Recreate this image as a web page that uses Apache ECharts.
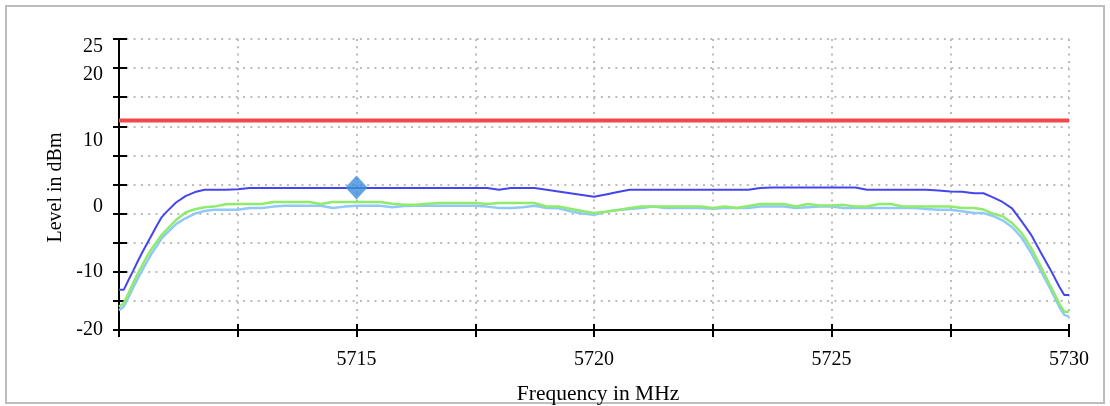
<!DOCTYPE html>
<html><head><meta charset="utf-8">
<script src="https://cdn.jsdelivr.net/npm/echarts@6/dist/echarts.min.js"></script>
<style>html,body{margin:0;padding:0;background:#fff}#c{width:1110px;height:406px}</style>
</head><body><div id="c"></div>
<script>
// Frequency sample points (MHz)
const freqMHz = [
  5710.0, 5710.1, 5710.2, 5710.3, 5710.4, 5710.5, 5710.6, 5710.7, 5710.8, 5710.9,
  5711.0, 5711.2, 5711.4, 5711.6, 5711.8, 5712.0,
  5712.25, 5712.5, 5712.75, 5713.0, 5713.25, 5713.5, 5713.75, 5714.0, 5714.25, 5714.5,
  5714.75, 5715.0, 5715.25, 5715.5, 5715.75, 5716.0, 5716.25, 5716.5, 5716.75, 5717.0,
  5717.25, 5717.5, 5717.75, 5718.0, 5718.25, 5718.5, 5718.75, 5719.0, 5719.25, 5719.5,
  5719.75, 5720.0, 5720.25, 5720.5, 5720.75, 5721.0, 5721.25, 5721.5, 5721.75, 5722.0,
  5722.25, 5722.5, 5722.75, 5723.0, 5723.25, 5723.5, 5723.75, 5724.0, 5724.25, 5724.5,
  5724.75, 5725.0, 5725.25, 5725.5, 5725.75, 5726.0, 5726.25, 5726.5, 5726.75, 5727.0,
  5727.25, 5727.5, 5727.75, 5728.0,
  5728.2, 5728.4, 5728.6, 5728.8, 5729.0, 5729.2, 5729.4, 5729.6, 5729.8, 5729.9, 5730.0
];
// Dark blue trace (dBm)
const levelBlue = [
  -13.1, -13.1, -11.4, -9.8, -8.1, -6.5, -5.0, -3.5, -2.0, -0.6,
  0.3, 1.9, 3.0, 3.7, 4.1, 4.1,
  4.1, 4.2, 4.4, 4.4, 4.4, 4.4, 4.4, 4.4, 4.4, 4.4,
  4.4, 4.4, 4.4, 4.4, 4.4, 4.4, 4.4, 4.4, 4.4, 4.4,
  4.4, 4.4, 4.4, 4.1, 4.4, 4.4, 4.4, 4.1, 3.8, 3.5,
  3.2, 2.9, 3.3, 3.7, 4.1, 4.1, 4.1, 4.1, 4.1, 4.1,
  4.1, 4.1, 4.1, 4.1, 4.1, 4.4, 4.5, 4.5, 4.5, 4.5,
  4.5, 4.5, 4.5, 4.5, 4.1, 4.1, 4.1, 4.1, 4.1, 4.1,
  3.95, 3.8, 3.75, 3.5,
  3.5, 2.8, 2.0, 0.9, -1.3, -3.6, -6.6, -9.5, -12.6, -14.0, -14.0
];
// Green trace (dBm)
const levelGreen = [
  -16.0, -15.4, -13.7, -11.9, -10.2, -8.7, -7.2, -5.9, -4.8, -3.65,
  -2.8, -1.1, 0.2, 0.75, 1.1, 1.2,
  1.6, 1.64, 1.64, 1.64, 1.98, 1.98, 1.98, 1.98, 1.64, 1.98,
  1.98, 1.98, 1.98, 1.98, 1.7, 1.51, 1.51, 1.7, 1.81, 1.81,
  1.81, 1.81, 1.64, 1.81, 1.81, 1.81, 1.81, 1.22, 1.22, 0.85,
  0.45, 0.09, 0.3, 0.6, 0.95, 1.22, 1.22, 1.22, 1.22, 1.22,
  1.22, 0.95, 1.22, 0.95, 1.3, 1.64, 1.64, 1.64, 1.22, 1.64,
  1.4, 1.4, 1.5, 1.22, 1.22, 1.64, 1.64, 1.22, 1.22, 1.22,
  1.22, 1.22, 0.95, 0.95,
  0.7, 0.0, -0.45, -1.6, -3.3, -5.85, -9.0, -12.3, -15.5, -16.85, -16.85
];
// Light blue trace (dBm)
const levelLightBlue = [
  -16.6, -16.0, -14.4, -12.7, -11.1, -9.6, -8.1, -6.7, -5.5, -4.2,
  -3.4, -1.8, -0.8, 0.0, 0.45, 0.65,
  0.65, 0.65, 0.95, 0.95, 1.2, 1.34, 1.34, 1.34, 1.34, 0.95,
  1.2, 1.34, 1.34, 1.34, 1.1, 1.3, 1.34, 1.34, 1.34, 1.34,
  1.34, 1.34, 1.2, 0.95, 0.95, 1.1, 1.34, 0.95, 0.9, 0.4,
  0.0, -0.21, 0.3, 0.6, 0.8, 0.95, 1.22, 0.95, 0.95, 0.95,
  0.95, 0.85, 0.95, 0.95, 0.95, 1.22, 1.22, 1.22, 0.95, 1.1,
  1.22, 1.22, 0.95, 0.95, 0.95, 0.95, 0.95, 0.95, 0.95, 0.8,
  0.65, 0.65, 0.4, 0.09,
  0.09, -0.4, -1.15, -2.3, -4.1, -6.7, -9.7, -12.8, -16.1, -17.4, -17.7
];
// Limit line and marker
const limitFreq = [5710, 5730];
const limitLevel = 16;
const markerFreq = [5715];
const markerLevel = [4.5];
// Tick labels
const xTickLabels = [5715, 5720, 5725, 5730];
const yTickLabels = ['25', '20', '10', '0', '-10', '-20'];
// level value at which each y label sits in the reference
const yTickLabelAt = [28.7, 23.9, 12.5, 1.2, -10.0, -20];

const FONT = 'Liberation Serif';
const chart = echarts.init(document.getElementById('c'), null, {renderer: 'canvas'});

const option = {
  animation: false,
  backgroundColor: '#fff',
  grid: {left: 119, right: 41, top: 39, bottom: 76, containLabel: false, outerBoundsMode: 'none'},
  graphic: [{
    type: 'rect', silent: true, z: -1,
    shape: {x: 6, y: 6, width: 1098, height: 397},
    style: {fill: null, stroke: '#bdbdbd', lineWidth: 2}
  }],
  xAxis: [{
    type: 'value', min: 5710, max: 5730, interval: 2.5, position: 'bottom',
    axisLine: {onZero: false, lineStyle: {color: '#000', width: 2}},
    axisTick: {length: 7, lineStyle: {color: '#000', width: 2}},
    axisLabel: {customValues: xTickLabels, margin: 20, fontFamily: FONT, fontSize: 20, color: '#000',
      formatter: v => String(v)},
    splitLine: {show: true, lineStyle: {type: [2, 5.3], color: '#bbbbbb', width: 2}},
    name: 'Frequency in MHz', nameLocation: 'middle', nameGap: 53,
    nameTextStyle: {fontFamily: FONT, fontSize: 21.5, color: '#000', padding: [0, 0, 0, 8]}
  }, {
    type: 'value', min: 5710, max: 5730, interval: 2.5, position: 'bottom',
    axisLine: {show: false, onZero: false},
    axisTick: {inside: true, length: 6, lineStyle: {color: '#000', width: 2}},
    axisLabel: {show: false}, splitLine: {show: false}
  }],
  yAxis: [{
    type: 'value', min: -20, max: 30, interval: 5, position: 'left',
    axisLine: {show: true, onZero: false, lineStyle: {color: '#000', width: 2}},
    axisTick: {show: true, length: 6, lineStyle: {color: '#000', width: 2}},
    axisLabel: {
      customValues: yTickLabelAt, margin: 16, fontFamily: FONT, fontSize: 20, color: '#000',
      formatter: function (v) {
        let best = 0;
        for (let i = 1; i < yTickLabelAt.length; i++) {
          if (Math.abs(yTickLabelAt[i] - v) < Math.abs(yTickLabelAt[best] - v)) best = i;
        }
        return yTickLabels[best];
      }
    },
    splitLine: {show: true, lineStyle: {type: [2, 5.3], color: '#bbbbbb', width: 2}},
    name: 'Level in dBm', nameLocation: 'middle', nameGap: 49,
    nameTextStyle: {fontFamily: FONT, fontSize: 20, color: '#000', padding: [0, 6, 0, 0]}
  }, {
    type: 'value', min: -20, max: 30, interval: 5, position: 'left',
    axisLine: {show: false, onZero: false},
    axisTick: {show: true, inside: true, length: 8, lineStyle: {color: '#000', width: 2}},
    axisLabel: {show: false}, splitLine: {show: false}
  }],
  series: [{
    type: 'line', name: 'Trace 3', showSymbol: false, symbol: 'none',
    data: freqMHz.map((f, i) => [f, levelLightBlue[i]]),
    lineStyle: {color: '#90c8fb', width: 2.5}, z: 2
  }, {
    type: 'line', name: 'Trace 2', showSymbol: false, symbol: 'none',
    data: freqMHz.map((f, i) => [f, levelGreen[i]]),
    lineStyle: {color: '#8eec6a', width: 2.5}, z: 3
  }, {
    type: 'line', name: 'Trace 1', showSymbol: false, symbol: 'none',
    data: freqMHz.map((f, i) => [f, levelBlue[i]]),
    lineStyle: {color: '#4545ef', width: 2}, z: 4
  }, {
    type: 'line', name: 'Limit', showSymbol: false, symbol: 'none',
    data: limitFreq.map(f => [f, limitLevel]),
    lineStyle: {color: '#f24848', width: 4}, z: 5
  }, {
    type: 'scatter', name: 'Marker', symbol: 'diamond', symbolSize: [22, 24],
    data: markerFreq.map((f, i) => [f, markerLevel[i]]),
    itemStyle: {color: '#3c8fda'}, z: 6
  }]
};
chart.setOption(option);
</script>
</body></html>
